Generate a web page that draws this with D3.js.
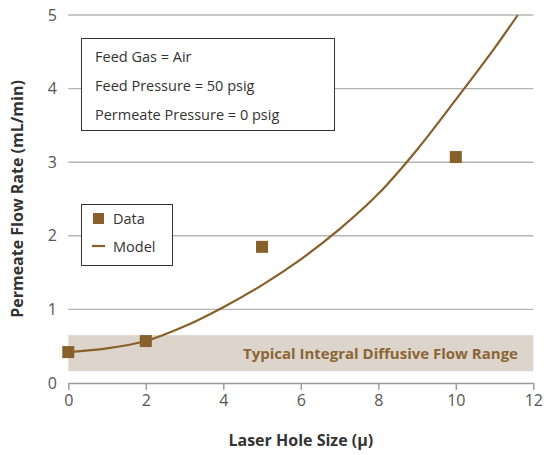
<!DOCTYPE html>
<html>
<head>
<meta charset="utf-8">
<script src="https://cdn.jsdelivr.net/npm/d3@7/dist/d3.min.js"></script>
<style>
  html, body { margin: 0; padding: 0; background: #fff; }
  svg { display: block; font-family: "Open Sans", "Noto Sans", sans-serif; }
</style>
</head>
<body>
<svg id="chart" width="545" height="455"></svg>
<script>
// Measured flow for each laser hole size
const holeSizes = [0, 2, 5, 10];
const flowRates = [0.42, 0.57, 1.85, 3.07];

// Model curve samples
const modelX = [0, 1, 2, 3, 4, 5, 6, 7, 8, 9, 10, 11, 11.6];
const modelY = [0.42, 0.47, 0.57, 0.77, 1.03, 1.33, 1.68, 2.09, 2.57, 3.17, 3.85, 4.55, 5.0];

// Diffusive flow band (min, max)
const bandRange = [0.16, 0.65];

const xTicks = [0, 2, 4, 6, 8, 10, 12];
const yTicks = [0, 1, 2, 3, 4, 5];
const conditions = ["Feed Gas = Air", "Feed Pressure = 50 psig", "Permeate Pressure = 0 psig"];
const legendItems = ["Data", "Model"];

const brown = "#87602c";
const svg = d3.select("#chart");

const x = d3.scaleLinear().domain([0, 12]).range([68.3, 533.3]);
const y = d3.scaleLinear().domain([0, 5]).range([383, 15]);

// Horizontal gridlines
svg.append("g").selectAll("line")
  .data(yTicks.filter(d => d > 0))
  .join("line")
  .attr("x1", x(0)).attr("x2", x(12))
  .attr("y1", d => y(d)).attr("y2", d => y(d))
  .attr("stroke", "#b4b4b4").attr("stroke-width", 1.4);

// Y tick labels
svg.append("g").selectAll("text")
  .data(yTicks)
  .join("text")
  .attr("x", 57).attr("y", d => y(d) + 5.5)
  .attr("text-anchor", "end")
  .attr("font-size", 16).attr("fill", "#555")
  .text(d => d);

// Band
svg.append("rect")
  .attr("x", x(0)).attr("width", x(12) - x(0))
  .attr("y", y(bandRange[1])).attr("height", y(bandRange[0]) - y(bandRange[1]))
  .attr("fill", "#ddd4cb");
svg.append("text")
  .attr("x", 518).attr("y", 359)
  .attr("text-anchor", "end")
  .attr("font-size", 15).attr("font-weight", "bold")
  .attr("fill", "#8a6535")
  .text("Typical Integral Diffusive Flow Range");

// X axis
const xAxis = svg.append("g").attr("transform", `translate(0,${y(0)})`)
  .call(d3.axisBottom(x).tickValues(xTicks).tickSize(7).tickPadding(5).tickSizeOuter(0));
xAxis.select(".domain").attr("stroke", "#999").attr("stroke-width", 1.4);
xAxis.selectAll(".tick line").attr("stroke", "#999").attr("stroke-width", 1.4);
xAxis.selectAll(".tick text")
  .attr("font-size", 16).attr("fill", "#555")
  .attr("font-family", "\"Open Sans\", sans-serif");

// Conditions box
const cb = svg.append("g");
cb.append("rect").attr("x", 81.5).attr("y", 38.5).attr("width", 253).attr("height", 92)
  .attr("fill", "#fff").attr("stroke", "#333").attr("stroke-width", 1);
cb.selectAll("text").data(conditions).join("text")
  .attr("x", 95).attr("y", (d, i) => 62 + i * 29)
  .attr("font-size", 14.5).attr("fill", "#333")
  .text(d => d);

// Legend box
const lg = svg.append("g");
lg.append("rect").attr("x", 81.5).attr("y", 204.5).attr("width", 91).attr("height", 61)
  .attr("fill", "#fff").attr("stroke", "#333").attr("stroke-width", 1);
lg.append("rect").attr("x", 93).attr("y", 213).attr("width", 11).attr("height", 11).attr("fill", brown);
lg.append("line").attr("x1", 92).attr("x2", 105).attr("y1", 246).attr("y2", 246)
  .attr("stroke", brown).attr("stroke-width", 2.2);
lg.selectAll("text").data(legendItems).join("text")
  .attr("x", 113).attr("y", (d, i) => 224 + i * 28)
  .attr("font-size", 14.5).attr("fill", "#333")
  .text(d => d);

// Model curve
const model = modelX.map((v, i) => [v, modelY[i]]);
svg.append("path")
  .datum(model)
  .attr("fill", "none").attr("stroke", brown).attr("stroke-width", 2.2)
  .attr("d", d3.line().x(d => x(d[0])).y(d => y(d[1])).curve(d3.curveCatmullRom.alpha(0.5)));

// Data points
svg.append("g").selectAll("rect")
  .data(holeSizes.map((v, i) => [v, flowRates[i]]))
  .join("rect")
  .attr("x", d => x(d[0]) - 6).attr("y", d => y(d[1]) - 6)
  .attr("width", 12).attr("height", 12)
  .attr("fill", brown);

// Axis titles
svg.append("text")
  .attr("x", x(6)).attr("y", 446)
  .attr("text-anchor", "middle")
  .attr("font-size", 16).attr("font-weight", "bold").attr("fill", "#333")
  .text("Laser Hole Size (μ)");
svg.append("text")
  .attr("transform", `translate(23,${y(2.5)}) rotate(-90)`)
  .attr("text-anchor", "middle")
  .attr("font-size", 16).attr("font-weight", "bold").attr("fill", "#333")
  .text("Permeate Flow Rate (mL/min)");
</script>
</body>
</html>
